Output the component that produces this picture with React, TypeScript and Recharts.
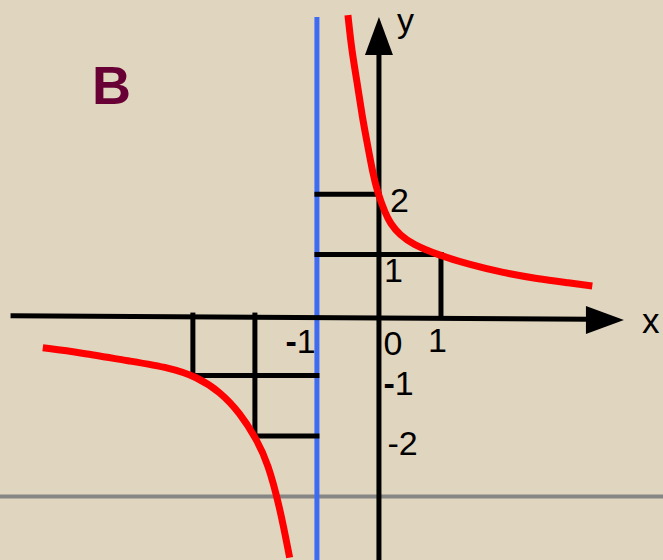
import React from 'react'
import { LineChart, Line, XAxis, YAxis, ReferenceLine, ReferenceDot } from 'recharts'

// red hyperbola
const rightX = [-0.5, -0.44, -0.35, -0.27, -0.19, -0.1, -0.02, 0.1, 0.18, 0.34, 0.55, 0.94, 1.47, 2.0, 2.55, 3.08, 3.44]
const rightY = [4.96, 4.38, 3.84, 3.28, 2.85, 2.35, 2.02, 1.69, 1.52, 1.32, 1.17, 1.0, 0.83, 0.7, 0.6, 0.53, 0.48]
const leftX = [-5.42, -4.82, -4.02, -3.37, -2.94, -2.56, -2.24, -1.97, -1.79, -1.6, -1.44]
const leftY = [-0.54, -0.62, -0.76, -0.87, -1.02, -1.27, -1.62, -2.06, -2.45, -3.17, -4.01]

const yTickValues = [2, 1, -1, -2]
const yTickLabels = ['2', '1', '-1', '-2']
const xTickValues = [-1, 0, 1]
const xTickLabels = ['-1', '0', '1']

// black step guides [x1, y1, x2, y2]
const guides = [
  [-1, 2, 0, 2],
  [-1, 1, 1, 1],
  [1, 1, 1, 0],
  [-3, 0, -3, -1],
  [-3, -1, -1, -1],
  [-2, 0, -2, -2],
  [-2, -2, -1, -2],
]
const asymptoteX = -1
const gridY = -3

const W = 663
const H = 560
const xDomain = [-6.11, 4.58]
const yDomain = [-4.05, 5.21]
const font = '"Liberation Sans", Arial, sans-serif'

const rightData = rightX.map((x, i) => ({ x, y: rightY[i] }))
const leftData = leftX.map((x, i) => ({ x, y: leftY[i] }))

// text offsets in px from the tick point
const yLabelPos = [[11, 18], [5, 27], [4.5, 19], [8.5, 19]]
const xLabelPos = [[-31.5, 38], [4.5, 40], [-13, 37]]

function Label({ cx, cy, dx, dy, text }: any) {
  const bold = text === '-1'
  return (
    <text x={cx + dx} y={cy + dy} fontSize={34} fontFamily={font} fill="#000">
      {bold ? (
        <>
          <tspan fontWeight="bold">-</tspan>1
        </>
      ) : (
        text
      )}
    </text>
  )
}

export default function App() {
  return (
    <div style={{ position: 'absolute', left: 0, top: 0, width: W, height: H, background: '#e0d5bf', overflow: 'hidden' }}>
      <LineChart width={W} height={H} margin={{ top: 0, right: 0, bottom: 0, left: 0 }}>
        <XAxis type="number" dataKey="x" domain={xDomain} allowDataOverflow hide />
        <YAxis type="number" dataKey="y" domain={yDomain} allowDataOverflow hide />
        <ReferenceLine y={gridY} stroke="#868686" strokeWidth={4} />
        <ReferenceLine
          segment={[{ x: asymptoteX, y: 4.93 }, { x: asymptoteX, y: -4.05 }]}
          stroke="#3d6cf2"
          strokeWidth={5}
        />
        {guides.map((g, i) => (
          <ReferenceLine
            key={i}
            segment={[{ x: g[0], y: g[1] }, { x: g[2], y: g[3] }]}
            stroke="#000"
            strokeWidth={5}
            strokeLinecap="square"
          />
        ))}
        <ReferenceLine segment={[{ x: -5.94, y: -0.01 }, { x: 3.4, y: -0.07 }]} stroke="#000" strokeWidth={5} />
        <ReferenceLine segment={[{ x: 0, y: 4.4 }, { x: 0, y: -4.05 }]} stroke="#000" strokeWidth={5} />
        <Line data={rightData} dataKey="y" type="basis" stroke="#ff0000" strokeWidth={7} dot={false} activeDot={false} isAnimationActive={false} />
        <Line data={leftData} dataKey="y" type="basis" stroke="#ff0000" strokeWidth={7} dot={false} activeDot={false} isAnimationActive={false} />
        <ReferenceDot
          x={0}
          y={4.93}
          shape={(p: any) => (
            <g>
              <polygon points={`${p.cx},${p.cy} ${p.cx - 14},${p.cy + 38} ${p.cx + 14},${p.cy + 38}`} fill="#000" />
              <text x={p.cx + 18} y={p.cy + 15} fontSize={34} fontFamily={font} fill="#000">y</text>
            </g>
          )}
        />
        <ReferenceDot
          x={3.95}
          y={-0.08}
          shape={(p: any) => (
            <g>
              <polygon points={`${p.cx},${p.cy} ${p.cx - 38},${p.cy - 14} ${p.cx - 38},${p.cy + 14}`} fill="#000" />
              <text x={p.cx + 18} y={p.cy + 13} fontSize={35} fontFamily={font} fill="#000">x</text>
            </g>
          )}
        />
        {yTickValues.map((v, i) => (
          <ReferenceDot
            key={'y' + i}
            x={0}
            y={v}
            shape={(p: any) => <Label cx={p.cx} cy={p.cy} dx={yLabelPos[i][0]} dy={yLabelPos[i][1]} text={yTickLabels[i]} />}
          />
        ))}
        {xTickValues.map((v, i) => (
          <ReferenceDot
            key={'x' + i}
            x={v}
            y={0}
            shape={(p: any) => <Label cx={p.cx} cy={p.cy} dx={xLabelPos[i][0]} dy={xLabelPos[i][1]} text={xTickLabels[i]} />}
          />
        ))}
      </LineChart>
      <svg width={W} height={H} style={{ position: 'absolute', left: 0, top: 0, pointerEvents: 'none' }}>
        <text x={92} y={104} fontSize={54} fontWeight="bold" fontFamily={font} fill="#680035">B</text>
      </svg>
    </div>
  )
}
